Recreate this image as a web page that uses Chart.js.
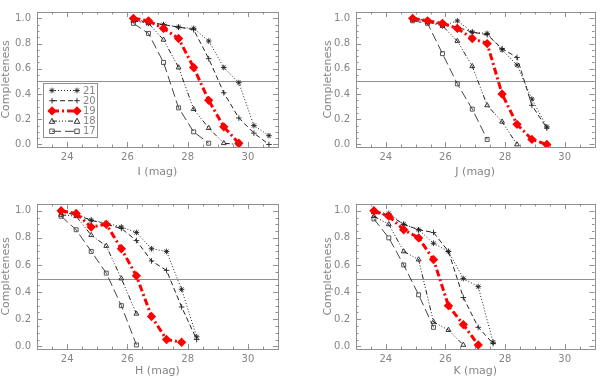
<!DOCTYPE html>
<html>
<head>
<meta charset="utf-8">
<script src="https://cdn.jsdelivr.net/npm/chart.js@4"></script>
<style>
  body { margin: 0; background: #fff; }
  #wrap { position: relative; width: 600px; height: 380px; }
  canvas { position: absolute; }
</style>
</head>
<body>
<div id="wrap">
  <canvas id="chart-i" width="300" height="190" style="left:0;top:0"></canvas>
  <canvas id="chart-j" width="300" height="190" style="left:300px;top:0"></canvas>
  <canvas id="chart-h" width="300" height="190" style="left:0;top:190px"></canvas>
  <canvas id="chart-k" width="300" height="190" style="left:300px;top:190px"></canvas>
</div>
<script>
'use strict';

// ***** DATA *****
let seriesNames = ['21', '20', '19', '18', '17'];

let magI = [26.2, 26.7, 27.2, 27.7, 28.2, 28.7, 29.2, 29.7, 30.2, 30.7];
let i21 = [0.99, 0.96, 0.95, 0.93, 0.92, 0.82, 0.61, 0.49, 0.15, 0.07];
let i20 = [0.99, 0.97, 0.95, 0.93, 0.91, 0.68, 0.41, 0.21, 0.09, 0.0];
let i19 = [1.0, 0.98, 0.92, 0.84, 0.61, 0.35, 0.14, 0.01];
let i18 = [0.98, 0.96, 0.83, 0.61, 0.28, 0.13, 0.01, 0.0];
let i17 = [0.96, 0.88, 0.65, 0.29, 0.10, 0.01];

let magJ = [24.9, 25.4, 25.9, 26.4, 26.9, 27.4, 27.9, 28.4, 28.9, 29.4];
let j21 = [1.0, 0.98, 0.94, 0.98, 0.89, 0.88, 0.75, 0.63, 0.36, 0.14];
let j20 = [1.0, 0.98, 0.95, 0.93, 0.89, 0.87, 0.76, 0.69, 0.31, 0.13];
let j19 = [1.0, 0.98, 0.96, 0.92, 0.84, 0.80, 0.40, 0.16, 0.04, 0.0];
let j18 = [0.99, 0.97, 0.94, 0.82, 0.62, 0.31, 0.18, 0.0];
let j17 = [0.98, 0.96, 0.72, 0.48, 0.28, 0.04];

let magH = [23.8, 24.3, 24.8, 25.3, 25.8, 26.3, 26.8, 27.3, 27.8, 28.3];
let h21 = [0.99, 0.98, 0.93, 0.91, 0.88, 0.84, 0.72, 0.70, 0.42, 0.07];
let h20 = [0.99, 0.97, 0.93, 0.90, 0.87, 0.78, 0.63, 0.56, 0.29, 0.05];
let h19 = [1.0, 0.98, 0.88, 0.90, 0.72, 0.52, 0.22, 0.05, 0.03];
let h18 = [0.97, 0.96, 0.82, 0.74, 0.50, 0.24];
let h17 = [0.96, 0.86, 0.70, 0.54, 0.30, 0.01];

let magK = [23.6, 24.1, 24.6, 25.1, 25.6, 26.1, 26.6, 27.1, 27.6];
let k21 = [0.99, 0.98, 0.90, 0.86, 0.76, 0.70, 0.50, 0.44, 0.03];
let k20 = [0.98, 0.97, 0.90, 0.86, 0.84, 0.70, 0.36, 0.14, 0.02];
let k19 = [1.0, 0.96, 0.86, 0.80, 0.64, 0.30, 0.16, 0.01];
let k18 = [0.96, 0.90, 0.70, 0.64, 0.18, 0.12, 0.01];
let k17 = [0.94, 0.80, 0.60, 0.38, 0.14];

let xMajorTicks = [24, 26, 28, 30];
let yMajorTicks = [0.0, 0.2, 0.4, 0.6, 0.8, 1.0];
let halfLevel = 0.5;

// ***** STYLES *****
let textGray = '#858585';
let frameGray = '#909090';
let seriesStyles = [
  { color: '#222', width: 1, dash: [1, 2], point: 'star', radius: 2.8, fill: false },
  { color: '#222', width: 1, dash: [5, 3], point: 'cross', radius: 2.8, fill: false },
  { color: '#ff0000', width: 3, dash: [7, 3, 2, 3], point: 'rectRot', radius: 3.6, fill: true },
  { color: '#222', width: 1, dash: [5, 2, 1, 2, 1, 2, 1, 2], point: 'triangle', radius: 2.8, fill: false },
  { color: '#444', width: 1, dash: [9, 4], point: 'rect', radius: 2.8, fill: false }
];

Chart.defaults.font.family = '"DejaVu Sans", sans-serif';
Chart.defaults.font.size = 10;
Chart.defaults.color = textGray;

// ***** HELPERS *****
function isMajor(list, v) {
  return list.some(m => Math.abs(m - v) < 1e-6);
}

function stepList(min, max, step) {
  let out = [];
  for (let v = min; v <= max + 1e-9; v += step) {
    out.push({ value: Math.round(v * 1000) / 1000 });
  }
  return out;
}

function buildDatasets(mags, seriesValues) {
  return seriesValues.map((vals, idx) => {
    let st = seriesStyles[idx];
    return {
      label: seriesNames[idx],
      data: vals.map((y, i) => ({ x: mags[i], y: y })),
      borderColor: st.color,
      borderWidth: st.width,
      borderDash: st.dash,
      pointStyle: st.point,
      pointRadius: st.radius,
      pointBorderColor: st.color,
      pointBackgroundColor: st.fill ? st.color : 'rgba(0,0,0,0)',
      pointBorderWidth: st.fill ? 1.5 : 0.9,
      tension: 0,
      fill: false,
      order: idx === 2 ? -1 : idx
    };
  });
}

function drawMarker(c, st, x, y) {
  let r = st.radius;
  c.save();
  c.setLineDash([]);
  c.strokeStyle = st.color;
  c.fillStyle = st.color;
  c.lineWidth = st.fill ? 1.5 : 0.9;
  c.beginPath();
  if (st.point === 'star') {
    c.moveTo(x - r, y); c.lineTo(x + r, y);
    c.moveTo(x, y - r); c.lineTo(x, y + r);
    let d = r * 0.707;
    c.moveTo(x - d, y - d); c.lineTo(x + d, y + d);
    c.moveTo(x - d, y + d); c.lineTo(x + d, y - d);
    c.stroke();
  } else if (st.point === 'cross') {
    c.moveTo(x - r, y); c.lineTo(x + r, y);
    c.moveTo(x, y - r); c.lineTo(x, y + r);
    c.stroke();
  } else if (st.point === 'rectRot') {
    c.moveTo(x, y - r); c.lineTo(x + r, y); c.lineTo(x, y + r); c.lineTo(x - r, y);
    c.closePath(); c.fill(); c.stroke();
  } else if (st.point === 'triangle') {
    c.moveTo(x - r, y + r * 0.8); c.lineTo(x + r, y + r * 0.8); c.lineTo(x, y - r);
    c.closePath(); c.stroke();
  } else {
    let s = r * 0.8;
    c.rect(x - s, y - s, 2 * s, 2 * s); c.stroke();
  }
  c.restore();
}

// frame, inward ticks, 0.5 line (IDL look)
let framePlugin = {
  id: 'idlFrame',
  beforeDatasetsDraw(chart) {
    let c = chart.ctx;
    let a = chart.chartArea;
    let xs = chart.scales.x;
    let ys = chart.scales.y;
    c.save();
    c.strokeStyle = frameGray;
    c.lineWidth = 1;
    c.strokeRect(Math.round(a.left) + 0.5, Math.round(a.top) + 0.5,
      Math.round(a.right - a.left), Math.round(a.bottom - a.top));
    c.beginPath();
    xs.ticks.forEach(t => {
      let px = Math.round(xs.getPixelForValue(t.value)) + 0.5;
      let len = isMajor(xMajorTicks, t.value) ? 5 : 2.5;
      c.moveTo(px, a.bottom); c.lineTo(px, a.bottom - len);
      c.moveTo(px, a.top); c.lineTo(px, a.top + len);
    });
    ys.ticks.forEach(t => {
      let py = Math.round(ys.getPixelForValue(t.value)) + 0.5;
      let len = isMajor(yMajorTicks, t.value) ? 5 : 2.5;
      c.moveTo(a.left, py); c.lineTo(a.left + len, py);
      c.moveTo(a.right, py); c.lineTo(a.right - len, py);
    });
    let hy = Math.round(ys.getPixelForValue(halfLevel)) + 0.5;
    c.moveTo(a.left, hy); c.lineTo(a.right, hy);
    c.stroke();
    c.restore();
  }
};

let legendPlugin = {
  id: 'idlLegend',
  afterDraw(chart, args, opts) {
    if (!opts.show) return;
    let c = chart.ctx;
    c.save();
    c.fillStyle = '#fff';
    c.fillRect(43, 83, 54, 54);
    c.strokeStyle = frameGray;
    c.lineWidth = 1;
    c.strokeRect(43.5, 83.5, 54, 54);
    seriesNames.forEach((name, idx) => {
      let st = seriesStyles[idx];
      let y = 90.5 + idx * 10.2;
      c.strokeStyle = st.color;
      c.lineWidth = st.width;
      c.setLineDash(st.dash);
      c.beginPath();
      c.moveTo(52, y); c.lineTo(77, y);
      c.stroke();
      drawMarker(c, st, 52, y);
      drawMarker(c, st, 77, y);
      c.fillStyle = textGray;
      c.font = '10px "DejaVu Sans", sans-serif';
      c.textBaseline = 'middle';
      c.fillText(name, 83, y + 0.5);
    });
    c.restore();
  }
};

function makePanel(canvasId, mags, seriesValues, xTitle, lay) {
  let ctx = document.getElementById(canvasId);
  return new Chart(ctx, {
    type: 'line',
    data: { datasets: buildDatasets(mags, seriesValues) },
    plugins: [framePlugin, legendPlugin],
    options: {
      responsive: false,
      animation: false,
      layout: { padding: { left: lay.padLeft, right: lay.padRight, top: lay.padTop, bottom: 0 } },
      plugins: {
        legend: { display: false },
        tooltip: { enabled: false },
        idlLegend: { show: !!lay.legend }
      },
      scales: {
        x: {
          type: 'linear',
          min: 23,
          max: 31,
          afterBuildTicks: s => { s.ticks = stepList(23, 31, 0.5); },
          afterFit: s => { s.height = lay.xHeight; },
          grid: { display: false, drawTicks: false },
          border: { display: false },
          ticks: {
            autoSkip: false,
            maxRotation: 0,
            padding: 4,
            color: textGray,
            font: { size: 10 },
            callback: v => isMajor(xMajorTicks, v) ? String(v) : ''
          },
          title: {
            display: true,
            text: xTitle,
            color: textGray,
            font: { size: 11 },
            padding: { top: 0, bottom: lay.titlePad }
          }
        },
        y: {
          type: 'linear',
          min: -0.02,
          max: 1.05,
          afterBuildTicks: s => { s.ticks = stepList(0, 1.05, 0.05); },
          afterFit: s => { s.width = lay.yWidth; },
          grid: { display: false, drawTicks: false },
          border: { display: false },
          ticks: {
            autoSkip: false,
            padding: 6,
            color: textGray,
            font: { size: 10 },
            callback: v => isMajor(yMajorTicks, v) ? v.toFixed(1) : ''
          },
          title: {
            display: true,
            text: 'Completeness',
            color: textGray,
            font: { size: 11 },
            padding: 0
          }
        }
      }
    }
  });
}

// ***** EXECUTABLE CODE *****
makePanel('chart-i', magI, [i21, i20, i19, i18, i17], 'I (mag)',
  { padLeft: 0, yWidth: 37, padRight: 22, padTop: 2, xHeight: 43, titlePad: 11, legend: true });
makePanel('chart-j', magJ, [j21, j20, j19, j18, j17], 'J (mag)',
  { padLeft: 22, yWidth: 34, padRight: 2, padTop: 2, xHeight: 43, titlePad: 11 });
makePanel('chart-h', magH, [h21, h20, h19, h18, h17], 'H (mag)',
  { padLeft: 0, yWidth: 37, padRight: 22, padTop: 14, xHeight: 31, titlePad: 2 });
makePanel('chart-k', magK, [k21, k20, k19, k18, k17], 'K (mag)',
  { padLeft: 22, yWidth: 34, padRight: 2, padTop: 14, xHeight: 31, titlePad: 2 });
</script>
</body>
</html>
